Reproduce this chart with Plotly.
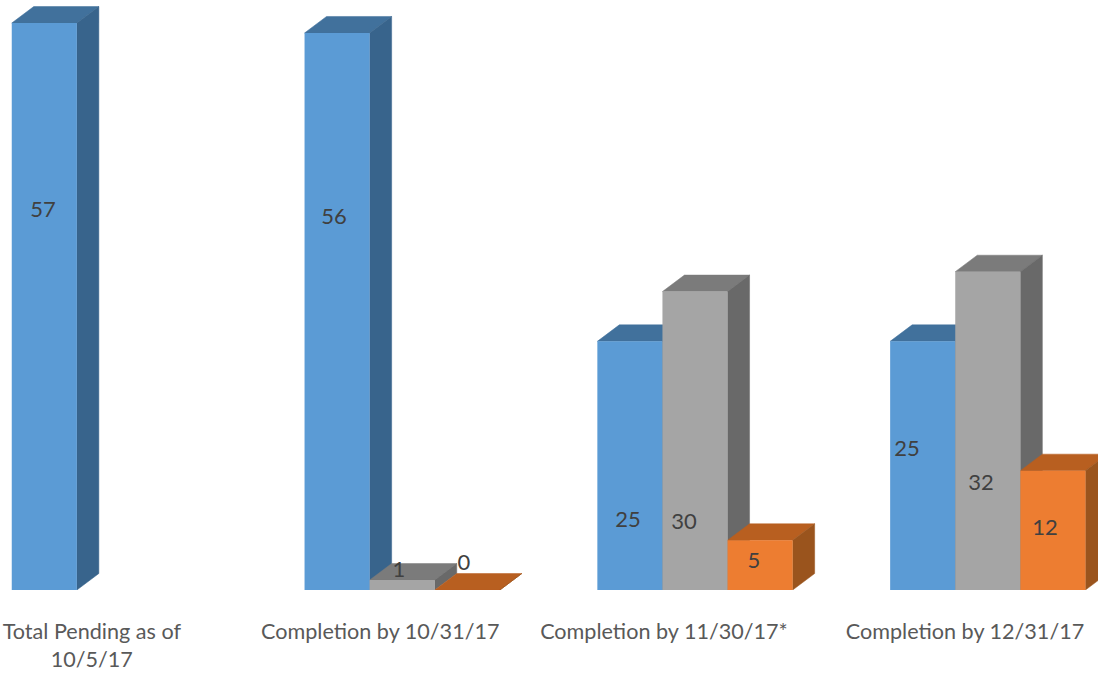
import plotly.graph_objects as go

categories = ["Total Pending as of<br>10/5/17", "Completion by 10/31/17",
              "Completion by 11/30/17*", "Completion by 12/31/17"]
series_a = [57, 56, 25, 25]
series_b = [None, 1, 30, 32]
series_c = [None, 0, 5, 12]

FRONT = ["#5B9BD5", "#A5A5A5", "#ED7D31"]
TOP = ["#41719C", "#7B7B7B", "#B85F20"]
SIDE = ["#38648C", "#696969", "#9A541D"]
TEXT = "#404040"
LABEL = "#595959"

# Scale of the drawing
W, H = 1098, 677
BASE_PX = 590
PX_PER_UNIT = 9.947
GROUP_PX = 292.8
ZERO_PX = 109.4
BAR_PX = 65.1
DEPTH_X = 22 / GROUP_PX
DEPTH_Y = 16.5 / PX_PER_UNIT
BAR_W = BAR_PX / GROUP_PX
xr = [-ZERO_PX / GROUP_PX, (W - ZERO_PX) / GROUP_PX]
yr = [0, BASE_PX / PX_PER_UNIT]

groups = [0, 1, 2, 3]
all_series = [series_a, series_b, series_c]

fig = go.Figure()


def poly(xs, ys, color):
    fig.add_trace(go.Scatter(x=xs + xs[:1], y=ys + ys[:1], mode="lines", fill="toself",
                             fillcolor=color, line=dict(color=color, width=0.5),
                             hoverinfo="skip", showlegend=False, xaxis="x", yaxis="y"))


# Tops and sides lie in the back subplot; the front faces overlay them
for s, vals in enumerate(all_series):
    for g, v in zip(groups, vals):
        if v is None:
            continue
        x0 = g + (s - 1.5) * BAR_W
        x1 = x0 + BAR_W
        poly([x0, x1, x1 + DEPTH_X, x0 + DEPTH_X], [v, v, v + DEPTH_Y, v + DEPTH_Y], TOP[s])
        poly([x1, x1 + DEPTH_X, x1 + DEPTH_X, x1], [0, DEPTH_Y, v + DEPTH_Y, v], SIDE[s])

for s, vals in enumerate(all_series):
    fig.add_trace(go.Bar(x=groups, y=vals, marker=dict(color=FRONT[s], line=dict(width=0)),
                         showlegend=False, xaxis="x2", yaxis="y2", width=BAR_W,
                         offset=(s - 1.5) * BAR_W))

# Data labels sit where the reference has them: (bar value, pixel x, pixel y)
label_text = [57, 56, 1, 0, 25, 30, 5, 25, 32, 12]
label_px_x = [43, 334, 399, 464, 628, 684, 754, 907, 981, 1045]
label_px_y = [211.5, 218.5, 571.5, 564.5, 521.5, 523.5, 562.5, 450.5, 484.5, 529.5]
fig.add_trace(go.Scatter(
    x=[(p - ZERO_PX) / GROUP_PX for p in label_px_x],
    y=[(BASE_PX - p) / PX_PER_UNIT for p in label_px_y],
    text=[str(t) for t in label_text], mode="text", textposition="middle center",
    textfont=dict(family="Lato", size=22, color=TEXT),
    hoverinfo="skip", showlegend=False, xaxis="x2", yaxis="y2"))

tick_shift = [-0.06, -0.075, -0.106, -0.078]
fig.update_layout(
    width=W, height=H, autosize=False,
    margin=dict(l=0, r=0, t=0, b=H - BASE_PX),
    paper_bgcolor="white", plot_bgcolor="white", showlegend=False,
    xaxis=dict(range=xr, showgrid=False, zeroline=False, showline=False, ticks="",
               tickvals=[g + d for g, d in zip(groups, tick_shift)], ticktext=categories,
               tickfont=dict(family="Lato", size=21.6, color=LABEL), tickangle=0,
               ticklabelstandoff=26),
    yaxis=dict(range=yr, showgrid=False, zeroline=False, showline=False, showticklabels=False, ticks=""),
    xaxis2=dict(range=xr, overlaying="x", showgrid=False, zeroline=False, showline=False,
                showticklabels=False, ticks=""),
    yaxis2=dict(range=yr, overlaying="y", showgrid=False, zeroline=False, showline=False,
                showticklabels=False, ticks=""),
)
fig.write_html("out.html", config={"displayModeBar": False},
               post_script="document.body.style.margin='0';document.documentElement.style.overflow='hidden';")
